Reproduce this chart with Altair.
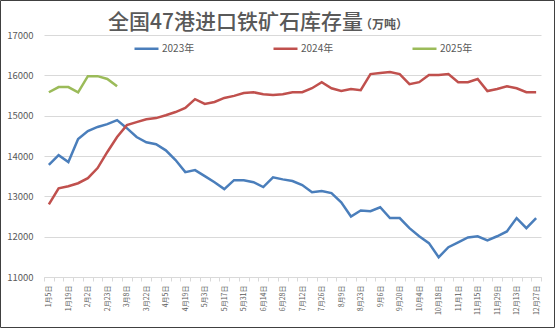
import altair as alt
import pandas as pd

dates = ["1月5日","1月12日","1月19日","1月26日","2月2日","2月9日","2月23日","3月1日","3月8日","3月15日",
         "3月22日","3月29日","4月5日","4月12日","4月19日","4月26日","5月3日","5月10日","5月17日","5月24日",
         "5月31日","6月7日","6月14日","6月21日","6月28日","7月5日","7月12日","7月19日","7月26日","8月2日",
         "8月9日","8月16日","8月23日","8月30日","9月6日","9月13日","9月20日","9月27日","10月4日","10月11日",
         "10月18日","10月25日","11月1日","11月8日","11月15日","11月22日","11月29日","12月6日","12月13日","12月20日",
         "12月27日"]
shown_labels = ["1月5日","1月19日","2月2日","2月23日","3月8日","3月22日","4月5日","4月19日","5月3日","5月17日",
                "5月31日","6月14日","6月28日","7月12日","7月26日","8月9日","8月23日","9月6日","9月20日","10月4日",
                "10月18日","11月1日","11月15日","11月29日","12月13日","12月27日"]

v2023 = [13780,14020,13850,14420,14620,14720,14790,14890,14690,14470,
         14340,14290,14140,13900,13600,13650,13500,13350,13180,13400,
         13400,13350,13230,13470,13420,13380,13280,13100,13130,13080,
         12850,12500,12650,12630,12730,12460,12460,12210,12010,11840,
         11490,11740,11860,11980,12010,11910,12010,12130,12460,12210,
         12460]
v2024 = [12800,13200,13250,13325,13450,13700,14100,14470,14765,14840,
         14910,14940,15010,15090,15190,15410,15290,15340,15440,15490,
         15560,15580,15530,15510,15530,15580,15580,15680,15830,15680,
         15610,15660,15630,16030,16060,16080,16030,15780,15830,16010,
         16010,16030,15830,15830,15910,15610,15660,15730,15680,15580,
         15580]
v2025 = [15580,15710,15710,15580,15980,15980,15910,15730]

series_names = ["2023年", "2024年", "2025年"]
colors = ["#4A7EBB", "#C0504D", "#9BBB59"]
y_ticks = [11000, 12000, 13000, 14000, 15000, 16000, 17000]

title_main = "全国47港进口铁矿石库存量"
title_unit = "（万吨）"

rows = []
for name, vals in zip(series_names, [v2023, v2024, v2025]):
    for i, v in enumerate(vals):
        rows.append({"date": dates[i], "idx": i, "series": name, "value": v})
df = pd.DataFrame(rows)

FONT = "Noto Sans CJK SC"
label_list = "[" + ",".join("'" + s + "'" for s in shown_labels) + "]"

W, H = 497, 242
PAD = {"left": 44, "top": 35, "right": 15, "bottom": 52}

lines = alt.Chart(df).mark_line(strokeWidth=2.5).encode(
    x=alt.X("date:N", sort=dates, bandPosition=0.5,
            scale=alt.Scale(type="band", domain=dates, paddingInner=0, paddingOuter=0),
            axis=alt.Axis(title=None, labelAngle=-90, labelFontSize=7, labelColor="#595959",
                          labelFont=FONT, domainColor="#D9D9D9", tickColor="#D9D9D9",
                          tickSize=4, tickBand="extent", labelPadding=4, grid=False,
                          labelExpr="indexof(" + label_list + ", datum.value) >= 0 ? datum.value : ''")),
    y=alt.Y("value:Q", scale=alt.Scale(domain=[11000, 17000], nice=False),
            axis=alt.Axis(title=None, values=y_ticks, labelFontSize=9.5, labelColor="#595959",
                          labelFont=FONT, domain=False, ticks=False, labelPadding=11,
                          gridColor="#D9D9D9", gridWidth=1, format="d")),
    color=alt.Color("series:N", scale=alt.Scale(domain=series_names, range=colors),
                    legend=alt.Legend(title=None, orient="none", legendX=89, legendY=0,
                                      direction="horizontal", symbolType="stroke",
                                      symbolSize=576, symbolStrokeWidth=2.5,
                                      labelFontSize=10, labelColor="#595959", labelFont=FONT,
                                      labelOffset=2, columnPadding=73, padding=0)),
    order="idx:Q",
)

t1 = alt.Chart(pd.DataFrame({"t": [title_main]})).mark_text(
    align="left", baseline="alphabetic", fontSize=21, font=FONT, fontWeight=500, color="#595959"
).encode(text="t:N", x=alt.value(64), y=alt.value(-6))

t2 = alt.Chart(pd.DataFrame({"t": [title_unit]})).mark_text(
    align="left", baseline="alphabetic", fontSize=12, font=FONT, fontWeight="bold", color="#595959"
).encode(text="t:N", x=alt.value(316), y=alt.value(-6))

border = alt.Chart(pd.DataFrame({"b": [1]})).mark_rect(
    filled=False, stroke="#404040", strokeWidth=1
).encode(x=alt.value(-43.5), x2=alt.value(510.5), y=alt.value(-34.5), y2=alt.value(292.5))

chart = alt.layer(lines, t1, t2, border).properties(
    width=W, height=H, padding=PAD, autosize=alt.AutoSizeParams(type="none"),
    background="white"
).configure_view(stroke=None)

chart.save("out.html", embed_options={"renderer": "svg", "actions": False})
